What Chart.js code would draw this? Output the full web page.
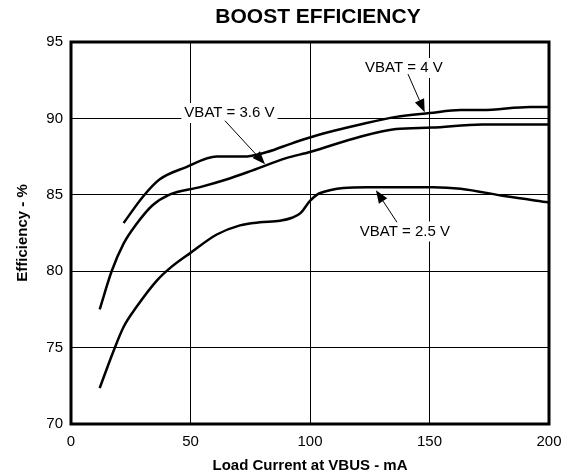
<!DOCTYPE html>
<html>
<head>
<meta charset="utf-8">
<script src="https://cdn.jsdelivr.net/npm/chart.js@4"></script>
<style>
  html, body { margin: 0; padding: 0; background: #fff; }
  #wrap { width: 572px; height: 476px; }
</style>
</head>
<body>
<div id="wrap"><canvas id="chart" width="572" height="476"></canvas></div>
<script>
// values
const load4 = [22, 30, 37, 48, 61, 72, 82, 93, 103, 121, 136, 150, 163, 172, 192, 200];
const eff4 = [83.15, 84.86, 86.0, 86.8, 87.5, 87.5, 87.8, 88.4, 88.9, 89.6, 90.1, 90.35, 90.55, 90.55, 90.75, 90.75];

const load36 = [12, 17, 22, 27, 34, 41, 54, 65, 76, 90, 100, 121, 136, 151, 172, 200];
const eff36 = [77.5, 80.0, 81.8, 83.0, 84.3, 85.0, 85.5, 86.0, 86.6, 87.4, 87.8, 88.8, 89.3, 89.4, 89.6, 89.6];

const load25 = [12, 17.6, 22, 27.6, 36, 41.4, 50, 61, 70.7, 79, 87.4, 92.5, 96, 100, 104, 124, 151.5, 163, 182, 200];
const eff25 = [72.35, 74.7, 76.35, 77.7, 79.4, 80.2, 81.2, 82.4, 83.0, 83.2, 83.3, 83.5, 83.8, 84.6, 85.1, 85.5, 85.5, 85.4, 84.9, 84.5];

const xTicks = [0, 50, 100, 150, 200];
const yTicks = [70, 75, 80, 85, 90, 95];

// callouts: text, text centre, arrow tail, arrow tip (in data units)
const labelText = ['VBAT = 3.6 V', 'VBAT = 4 V', 'VBAT = 2.5 V'];
const labelAt = [[66.3, 90.35], [139.3, 93.3], [139.7, 82.6]];
const arrowFrom = [[64.4, 89.85], [141, 92.9], [136.4, 83.2]];
const arrowTo = [[81.2, 87.0], [148, 90.4], [127.6, 85.3]];

const FONT = '"Liberation Sans", Arial, sans-serif';

const toPts = (xs, ys) => xs.map((x, i) => ({ x: x, y: ys[i] }));

const lineStyle = {
    borderColor: '#000',
    borderWidth: 2.5,
    pointRadius: 0,
    fill: false,
    cubicInterpolationMode: 'monotone',
};

const framePlugin = {
    id: 'frame',
    afterDraw: (chart) => {
        const { ctx, chartArea: a } = chart;
        ctx.save();
        ctx.strokeStyle = '#000';
        ctx.lineWidth = 3;
        ctx.strokeRect(a.left, a.top, a.right - a.left, a.bottom - a.top);

        // title, a bit right of the plot centre like the original
        ctx.fillStyle = '#000';
        ctx.font = 'bold 21px ' + FONT;
        ctx.textAlign = 'center';
        ctx.textBaseline = 'middle';
        ctx.fillText('BOOST EFFICIENCY', (a.left + a.right) / 2 + 8, 17);
        ctx.restore();
    }
};

const calloutPlugin = {
    id: 'callouts',
    afterDatasetsDraw: (chart) => {
        const { ctx, scales } = chart;
        const px = (p) => [scales.x.getPixelForValue(p[0]), scales.y.getPixelForValue(p[1])];
        ctx.save();
        ctx.font = '15px ' + FONT;
        ctx.textAlign = 'center';
        ctx.textBaseline = 'middle';
        labelText.forEach((txt, i) => {
            const [cx, cy] = px(labelAt[i]);
            const w = ctx.measureText(txt).width;
            ctx.fillStyle = '#fff';
            ctx.fillRect(cx - w / 2 - 3, cy - 10, w + 6, 20);
            ctx.fillStyle = '#000';
            ctx.fillText(txt, cx, cy);

            // arrow
            const [x0, y0] = px(arrowFrom[i]);
            const [x1, y1] = px(arrowTo[i]);
            const ang = Math.atan2(y1 - y0, x1 - x0);
            const len = 13, half = 5;
            const bx = x1 - len * Math.cos(ang), by = y1 - len * Math.sin(ang);
            ctx.strokeStyle = '#000';
            ctx.lineWidth = 1;
            ctx.beginPath();
            ctx.moveTo(x0, y0);
            ctx.lineTo(bx, by);
            ctx.stroke();
            ctx.beginPath();
            ctx.moveTo(x1, y1);
            ctx.lineTo(bx + half * Math.sin(ang), by - half * Math.cos(ang));
            ctx.lineTo(bx - half * Math.sin(ang), by + half * Math.cos(ang));
            ctx.closePath();
            ctx.fill();
        });
        ctx.restore();
    }
};

new Chart(document.getElementById('chart').getContext('2d'), {
    type: 'line',
    data: {
        datasets: [
            { ...lineStyle, label: 'VBAT = 4 V', data: toPts(load4, eff4) },
            { ...lineStyle, label: 'VBAT = 3.6 V', data: toPts(load36, eff36) },
            { ...lineStyle, label: 'VBAT = 2.5 V', data: toPts(load25, eff25) },
        ]
    },
    options: {
        responsive: false,
        animation: false,
        layout: { padding: { top: 42, right: 23, left: 4, bottom: 0 } },
        plugins: {
            legend: { display: false },
            tooltip: { enabled: false },
        },
        scales: {
            x: {
                type: 'linear',
                min: 0,
                max: 200,
                afterBuildTicks: (axis) => { axis.ticks = xTicks.map(v => ({ value: v })); },
                afterFit: (axis) => { axis.height = 52; },
                ticks: { color: '#000', font: { family: FONT, size: 15 }, padding: 9, maxRotation: 0 },
                grid: { color: '#000', lineWidth: 1, drawTicks: false },
                border: { display: false },
                title: {
                    display: true,
                    text: 'Load Current at VBUS - mA',
                    color: '#000',
                    font: { family: FONT, size: 15, weight: 'bold' },
                    padding: { top: 0, bottom: 1 },
                },
            },
            y: {
                min: 70,
                max: 95,
                afterBuildTicks: (axis) => { axis.ticks = yTicks.map(v => ({ value: v })); },
                afterFit: (axis) => { axis.width = 67; },
                ticks: { color: '#000', font: { family: FONT, size: 15 }, padding: 8 },
                grid: { color: '#000', lineWidth: 1, drawTicks: false },
                border: { display: false },
                title: {
                    display: true,
                    text: 'Efficiency - %',
                    color: '#000',
                    font: { family: FONT, size: 15, weight: 'bold' },
                    padding: { top: 10, bottom: 0 },
                },
            },
        },
    },
    plugins: [framePlugin, calloutPlugin],
});
</script>
</body>
</html>
